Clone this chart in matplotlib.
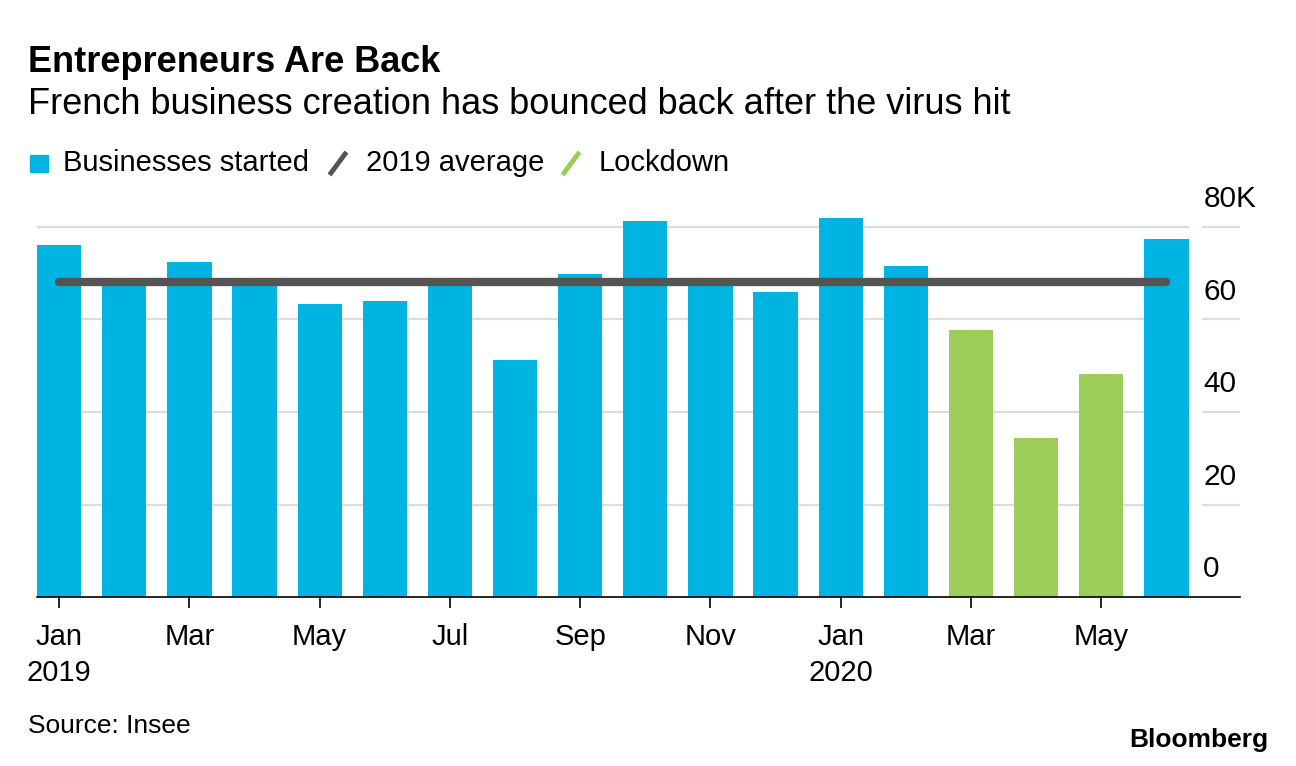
import matplotlib
matplotlib.use("Agg")
import matplotlib.pyplot as plt
from matplotlib.patches import Rectangle
from matplotlib.lines import Line2D

plt.rcParams['font.family'] = ['Liberation Sans', 'DejaVu Sans']

months = ["Jan", "Feb", "Mar", "Apr", "May", "Jun", "Jul", "Aug", "Sep", "Oct", "Nov", "Dec",
          "Jan", "Feb", "Mar", "Apr", "May", "Jun"]
years = ["2019"] + [""] * 11 + ["2020"] + [""] * 5
values = [76.2, 68.0, 72.4, 68.0, 63.3, 64.1, 68.0, 51.2, 69.8, 81.4, 67.5, 65.9,
          81.9, 71.5, 57.7, 34.3, 48.2, 77.5]
lockdown = [False] * 14 + [True, True, True] + [False]
avg_2019 = 68.0
yticks = [0, 20, 40, 60, 80]
ytick_labels = ["0", "20", "40", "60", "80K"]

BLUE = "#00B4E1"
GREEN = "#9BCD58"
GRAY = "#545454"
GRID = "#DCDCDC"

fig = plt.figure(figsize=(12.96, 7.66), dpi=100)
ax = fig.add_axes([37 / 1296, 1 - 597 / 766, 1203 / 1296, (597 - 190) / 766])

x = list(range(len(values)))
colors = [GREEN if l else BLUE for l in lockdown]
ax.bar(x, values, width=0.68, color=colors, zorder=2)
ax.plot([x[0], x[-1]], [avg_2019, avg_2019], color=GRAY, lw=6, solid_capstyle='round', zorder=3)

ax.set_xlim(-0.34, 18.13)
ax.set_ylim(0, 88)

for yv in yticks[1:]:
    ax.axhline(yv, xmin=0, xmax=0.957, color=GRID, lw=1.6, zorder=1)
    ax.axhline(yv, xmin=0.969, xmax=1.0, color=GRID, lw=1.6, zorder=1)
for yv, lab in zip(yticks, ytick_labels):
    ax.text(0.9695, yv + 3.0, lab, transform=ax.get_yaxis_transform(), ha='left', va='bottom',
            fontsize=21.5, color='black')

for s in ['top', 'right', 'left']:
    ax.spines[s].set_visible(False)
ax.spines['bottom'].set_color('black')
ax.spines['bottom'].set_linewidth(1.2)
ax.spines['bottom'].set_zorder(4)
ax.set_yticks([])

tick_pos = [i for i in x if i % 2 == 0]
tick_labels = [months[i] + ("\n" + years[i] if years[i] else "") for i in tick_pos]
ax.set_xticks(tick_pos)
ax.set_xticklabels(tick_labels, fontsize=21, linespacing=1.36)
ax.tick_params(axis='x', length=8, width=1.2, pad=11, color='black')
for t in ax.get_xticklabels():
    t.set_verticalalignment('top')

fig.text(28 / 1296, 1 - 62 / 766, "Entrepreneurs Are Back", fontsize=26, fontweight='bold',
         ha='left', va='center')
fig.text(28 / 1296, 1 - 104 / 766, "French business creation has bounced back after the virus hit",
         fontsize=26, ha='left', va='center')

# legend
fig.patches.append(Rectangle((30 / 1296, 1 - 172 / 766), 18 / 1296, 17 / 766,
                             transform=fig.transFigure, color=BLUE))
fig.text(63 / 1296, 1 - 163 / 766, "Businesses started", fontsize=21, ha='left', va='center')
fig.lines.append(Line2D([331 / 1296, 345 / 1296], [1 - 173 / 766, 1 - 154 / 766],
                        transform=fig.transFigure, color=GRAY, lw=3.5))
fig.text(366 / 1296, 1 - 163 / 766, "2019 average", fontsize=21, ha='left', va='center')
fig.lines.append(Line2D([564 / 1296, 578 / 1296], [1 - 173 / 766, 1 - 154 / 766],
                        transform=fig.transFigure, color=GREEN, lw=3.5))
fig.text(599 / 1296, 1 - 163 / 766, "Lockdown", fontsize=21, ha='left', va='center')

fig.text(28 / 1296, 1 - 726 / 766, "Source: Insee", fontsize=19, ha='left', va='center')
fig.text(1268 / 1296, 1 - 740 / 766, "Bloomberg", fontsize=19, fontweight='bold',
         ha='right', va='center')

fig.savefig("out.png", dpi=100, facecolor='white')
